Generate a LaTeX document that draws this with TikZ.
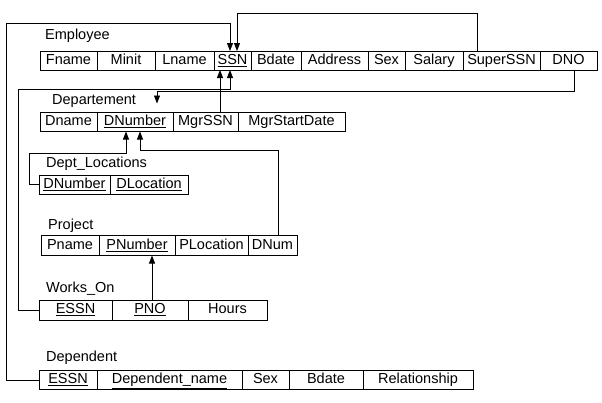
\documentclass[tikz,border=0pt]{standalone}
\usepackage{fontspec}
\setmainfont{Liberation Sans}
\usetikzlibrary{positioning}
\usetikzlibrary{arrows.meta}

\tikzset{
  attr/.style={draw, line width=0.8pt, minimum height=19pt, inner sep=0pt, outer sep=0pt,
    text height=10.5pt, text depth=3pt},
  relname/.style={anchor=base west, inner sep=0pt},
  fk/.style={line width=0.8pt, -{Triangle[length=8pt,width=6pt]}},
}

\begin{document}
\begin{tikzpicture}[x=1pt, y=-1pt, node distance=0pt, font=\fontsize{14.5}{16}\selectfont]
  \useasboundingbox (0,0) rectangle (602,402);

  % Employee
  \node[relname] (employee) at (45,39) {Employee};
  \node[attr, minimum width=57pt, anchor=west] (fname) at (40,60.5) {Fname};
  \node[attr, minimum width=58pt, right=of fname] (minit) {Minit};
  \node[attr, minimum width=59pt, right=of minit] (lname) {Lname};
  \node[attr, minimum width=37pt, right=of lname] (ssn) {\underline{SSN}};
  \node[attr, minimum width=50pt, right=of ssn] (bdate) {Bdate};
  \node[attr, minimum width=67pt, right=of bdate] (address) {Address};
  \node[attr, minimum width=37pt, right=of address] (esex) {Sex};
  \node[attr, minimum width=58pt, right=of esex] (salary) {Salary};
  \node[attr, minimum width=77pt, right=of salary] (superssn) {SuperSSN};
  \node[attr, minimum width=57pt, right=of superssn] (dno) {DNO};

  % Departement
  \node[relname] (departement) at (52,104) {Departement};
  \node[attr, minimum width=57pt, anchor=west] (dname) at (40,122) {Dname};
  \node[attr, minimum width=76pt, right=of dname] (dnumber) {\underline{DNumber}};
  \node[attr, minimum width=65pt, right=of dnumber] (mgrssn) {MgrSSN};
  \node[attr, minimum width=107pt, right=of mgrssn] (mgrstart) {MgrStartDate};

  % Dept_Locations
  \node[relname] (deptloc) at (46,167) {Dept\_Locations};
  \node[attr, minimum width=71pt, anchor=west] (ldnumber) at (39,184.5) {\underline{DNumber}};
  \node[attr, minimum width=78pt, right=of ldnumber] (dlocation) {\underline{DLocation}};

  % Project
  \node[relname] (project) at (48,229) {Project};
  \node[attr, minimum width=58pt, minimum height=20pt, anchor=west] (pname) at (41,245.5) {Pname};
  \node[attr, minimum width=76pt, minimum height=20pt, right=of pname] (pnumber) {\underline{PNumber}};
  \node[attr, minimum width=73pt, minimum height=20pt, right=of pnumber] (plocation) {PLocation};
  \node[attr, minimum width=49pt, minimum height=20pt, right=of plocation] (dnum) {DNum};

  % Works_On
  \node[relname] (workson) at (46,292) {Works\_On};
  \node[attr, minimum width=73pt, minimum height=20pt, anchor=west] (wessn) at (39,310) {\underline{ESSN}};
  \node[attr, minimum width=76pt, minimum height=20pt, right=of wessn] (pno) {\underline{PNO}};
  \node[attr, minimum width=79pt, minimum height=20pt, right=of pno] (hours) {Hours};

  % Dependent
  \node[relname] (dependent) at (46,361) {Dependent};
  \node[attr, minimum width=58pt, anchor=west] (dessn) at (39,380) {\underline{ESSN}};
  \node[attr, minimum width=145pt, right=of dessn] (depname) {\underline{Dependent\_name}};
  \node[attr, minimum width=47pt, right=of depname] (dsex) {Sex};
  \node[attr, minimum width=74pt, right=of dsex] (dbdate) {Bdate};
  \node[attr, minimum width=110pt, right=of dbdate] (relship) {Relationship};

  % foreign keys
  \draw[fk] (dessn.west) -- ++(-33,0) |- ([xshift=-2.5pt,yshift=28pt]ssn.north) -- ([xshift=-2.5pt]ssn.north);
  \draw[fk] ([xshift=-24pt]superssn.north) |- ([xshift=4.5pt,yshift=38pt]ssn.north) -- ([xshift=4.5pt]ssn.north);
  \draw[fk] ([xshift=5.5pt]dno.south) |- ([xshift=22pt,yshift=21pt]dnumber.north) -- ([xshift=22pt,yshift=9pt]dnumber.north);
  \draw[fk] ([xshift=14.5pt]mgrssn.north) -- ([xshift=-12.5pt]ssn.south);
  \draw[fk] (wessn.west) -- ++(-21,0) |- ([xshift=-2.5pt,yshift=-19pt]ssn.south) -- ([xshift=-2.5pt]ssn.south);
  \draw[fk] (ldnumber.west) -- ++(-10,0) |- ([xshift=-9pt,yshift=-22pt]dnumber.south) -- ([xshift=-9pt]dnumber.south);
  \draw[fk] ([xshift=5.5pt]dnum.north) |- ([xshift=5pt,yshift=-19pt]dnumber.south) -- ([xshift=5pt]dnumber.south);
  \draw[fk] ([xshift=2pt]pno.north) -- ([xshift=15pt]pnumber.south);
\end{tikzpicture}
\end{document}
